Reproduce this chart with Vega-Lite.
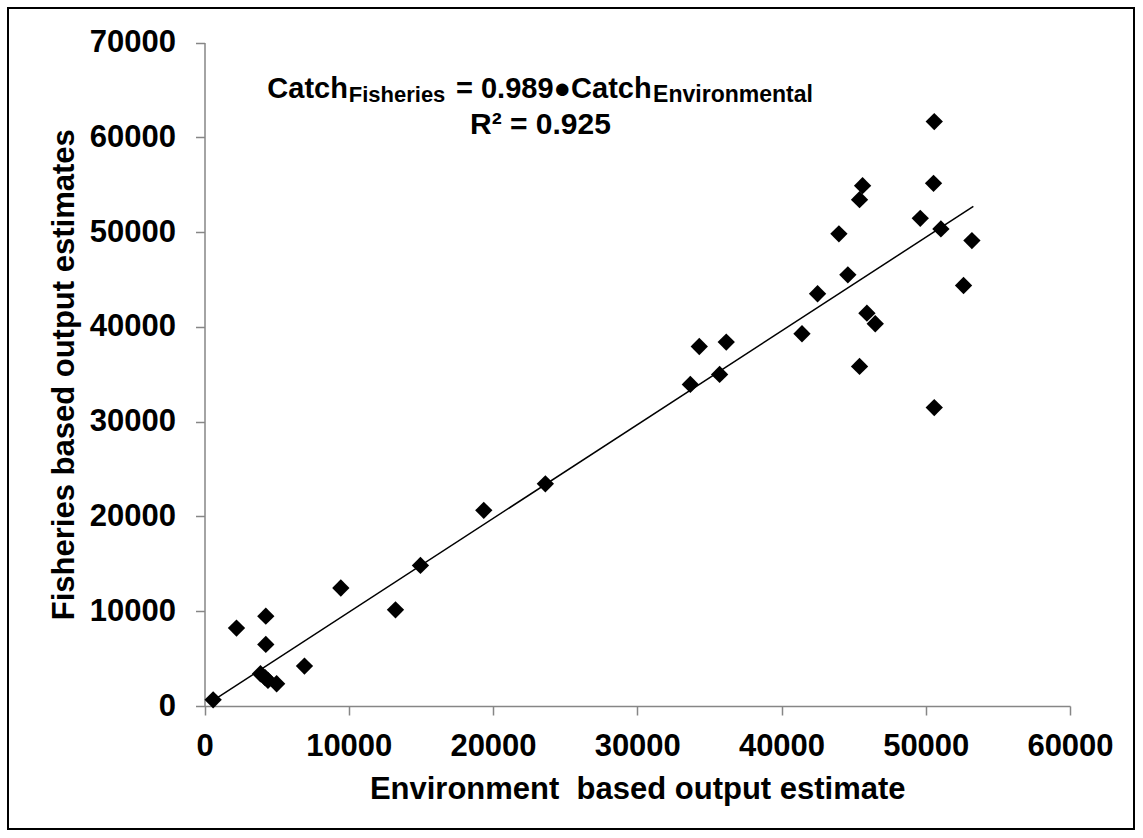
{
  "$schema": "https://vega.github.io/schema/vega-lite/v6.json",
  "width": 1126,
  "height": 821,
  "autosize": {"type": "none"},
  "padding": {"left": 8, "top": 8, "right": 9, "bottom": 9},
  "background": "white",
  "config": {
    "view": {"stroke": "black", "strokeWidth": 2},
    "font": "Liberation Sans"
  },
  "datasets": {
    "points": [
      {"env": 600, "fish": 650},
      {"env": 2218, "fish": 8220},
      {"env": 4250, "fish": 9480},
      {"env": 4250, "fish": 6500},
      {"env": 3880, "fish": 3400},
      {"env": 4200, "fish": 3000},
      {"env": 4400, "fish": 2700},
      {"env": 5000, "fish": 2350},
      {"env": 6930, "fish": 4210},
      {"env": 9450, "fish": 12450},
      {"env": 13240, "fish": 10150},
      {"env": 14970, "fish": 14830},
      {"env": 19360, "fish": 20640},
      {"env": 23630, "fish": 23440},
      {"env": 33680, "fish": 33930},
      {"env": 34300, "fish": 37930},
      {"env": 35710, "fish": 34980},
      {"env": 36170, "fish": 38390},
      {"env": 41420, "fish": 39270},
      {"env": 42500, "fish": 43490},
      {"env": 43980, "fish": 49810},
      {"env": 44600, "fish": 45490},
      {"env": 45410, "fish": 53420},
      {"env": 45620, "fish": 54900},
      {"env": 45410, "fish": 35830},
      {"env": 45920, "fish": 41440},
      {"env": 46500, "fish": 40330},
      {"env": 49620, "fish": 51450},
      {"env": 50540, "fish": 55140},
      {"env": 50590, "fish": 61660},
      {"env": 51050, "fish": 50330},
      {"env": 53200, "fish": 49100},
      {"env": 52620, "fish": 44360},
      {"env": 50590, "fish": 31480}
    ],
    "trend": [
      {"env": 500, "fish": 495},
      {"env": 53300, "fish": 52714}
    ],
    "notes": [
      {"label": "Catch", "part": "main1"},
      {"label": "Fisheries", "part": "sub1"},
      {"label": "= 0.989●Catch", "part": "main2"},
      {"label": "Environmental", "part": "sub2"},
      {"label": "R² = 0.925", "part": "r2"}
    ]
  },
  "layer": [
    {
      "data": {"name": "points"},
      "mark": {"type": "point", "shape": "diamond", "filled": true, "color": "black", "size": 300, "opacity": 1},
      "encoding": {
        "x": {
          "field": "env",
          "type": "quantitative",
          "scale": {"domain": [0, 60000], "range": [196.5, 1062], "nice": false, "zero": false},
          "axis": {
            "title": "Environment\u00a0 based output estimate",
            "offset": -123,
            "values": [0, 10000, 20000, 30000, 40000, 50000, 60000],
            "format": "d",
            "grid": false,
            "labelFontSize": 31,
            "labelFontWeight": "bold",
            "labelColor": "black",
            "labelPadding": 16,
            "labelFlush": false,
            "labelOverlap": false,
            "titleFontSize": 31,
            "titleFontWeight": "bold",
            "titleColor": "black",
            "titlePadding": 13,
            "domainColor": "#868686",
            "domainWidth": 1.5,
            "tickColor": "#868686",
            "tickWidth": 1.5,
            "tickSize": 9
          }
        },
        "y": {
          "field": "fish",
          "type": "quantitative",
          "scale": {"domain": [0, 70000], "range": [698, 34.5], "nice": false, "zero": false},
          "axis": {
            "title": "Fisheries based output estimates",
            "offset": -196.5,
            "values": [0, 10000, 20000, 30000, 40000, 50000, 60000, 70000],
            "format": "d",
            "grid": false,
            "labelFontSize": 31,
            "labelFontWeight": "bold",
            "labelColor": "black",
            "labelPadding": 20,
            "labelFlush": false,
            "labelOverlap": false,
            "titleFontSize": 31,
            "titleFontWeight": "bold",
            "titleColor": "black",
            "titlePadding": 9,
            "domainColor": "#868686",
            "domainWidth": 1.5,
            "tickColor": "#868686",
            "tickWidth": 1.5,
            "tickSize": 9
          }
        }
      }
    },
    {
      "data": {"name": "trend"},
      "mark": {"type": "line", "color": "black", "strokeWidth": 1.5},
      "encoding": {
        "x": {"field": "env", "type": "quantitative"},
        "y": {"field": "fish", "type": "quantitative"}
      }
    },
    {
      "data": {"name": "notes"},
      "transform": [{"filter": "datum.part === 'main1'"}],
      "mark": {"type": "text", "align": "left", "baseline": "alphabetic", "fontSize": 29, "fontWeight": "bold", "color": "black"},
      "encoding": {
        "x": {"datum": 4354, "type": "quantitative"},
        "y": {"datum": 64110, "type": "quantitative"},
        "text": {"field": "label", "type": "nominal"}
      }
    },
    {
      "data": {"name": "notes"},
      "transform": [{"filter": "datum.part === 'sub1'"}],
      "mark": {"type": "text", "align": "left", "baseline": "alphabetic", "fontSize": 22, "fontWeight": "bold", "color": "black"},
      "encoding": {
        "x": {"datum": 10000, "type": "quantitative"},
        "y": {"datum": 63750, "type": "quantitative"},
        "text": {"field": "label", "type": "nominal"}
      }
    },
    {
      "data": {"name": "notes"},
      "transform": [{"filter": "datum.part === 'main2'"}],
      "mark": {"type": "text", "align": "left", "baseline": "alphabetic", "fontSize": 29, "fontWeight": "bold", "color": "black"},
      "encoding": {
        "x": {"datum": 17435, "type": "quantitative"},
        "y": {"datum": 64110, "type": "quantitative"},
        "text": {"field": "label", "type": "nominal"}
      }
    },
    {
      "data": {"name": "notes"},
      "transform": [{"filter": "datum.part === 'sub2'"}],
      "mark": {"type": "text", "align": "left", "baseline": "alphabetic", "fontSize": 23, "fontWeight": "bold", "color": "black"},
      "encoding": {
        "x": {"datum": 31100, "type": "quantitative"},
        "y": {"datum": 63750, "type": "quantitative"},
        "text": {"field": "label", "type": "nominal"}
      }
    },
    {
      "data": {"name": "notes"},
      "transform": [{"filter": "datum.part === 'r2'"}],
      "mark": {"type": "text", "align": "left", "baseline": "alphabetic", "fontSize": 30, "fontWeight": "bold", "color": "black"},
      "encoding": {
        "x": {"datum": 18406, "type": "quantitative"},
        "y": {"datum": 60340, "type": "quantitative"},
        "text": {"field": "label", "type": "nominal"}
      }
    }
  ]
}
